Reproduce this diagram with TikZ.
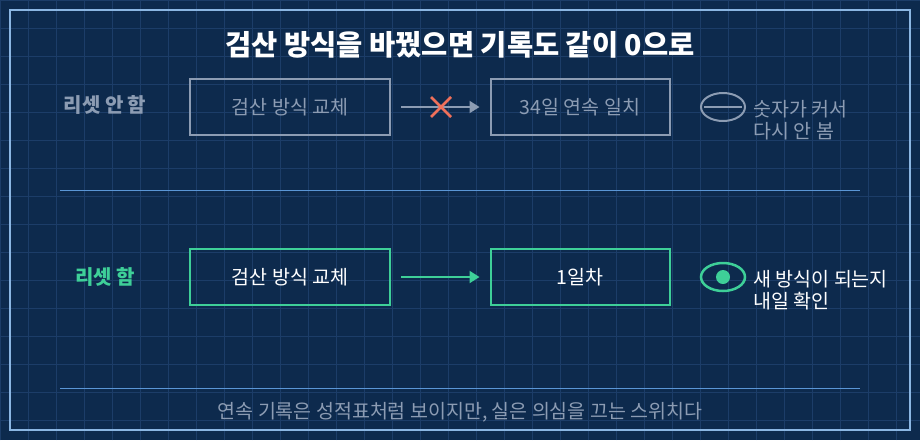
\documentclass[tikz,border=0pt]{standalone}
\usepackage{fontspec}
\setmainfont{Noto Sans CJK KR}
\usetikzlibrary{arrows.meta, positioning, calc, shapes.geometric}
\definecolor{bgblue}{HTML}{0D2A4D}
\definecolor{gridblue}{HTML}{1C3D68}
\definecolor{lineblue}{HTML}{5A96D6}
\definecolor{dimgray}{HTML}{8C9CB3}
\definecolor{okgreen}{HTML}{3ECF98}
\definecolor{crossred}{HTML}{F0705A}
\tikzset{
  stage/.style = {rectangle, minimum width=200pt, minimum height=56pt, line width=2pt, font={\fontsize{19.5pt}{23pt}\selectfont}},
  rowlabel/.style = {font={\fontsize{20pt}{24pt}\selectfont\bfseries}},
  note/.style = {anchor=west, align=left, font={\fontsize{19.5pt}{22pt}\selectfont}},
  arrow/.style = {line width=2pt, -{Triangle[length=10pt, width=12pt]}}
}
\begin{document}
\begin{tikzpicture}[x=1pt, y=-1pt]
    \fill[bgblue] (0,0) rectangle (920,440);
    \useasboundingbox (0,0) rectangle (920,440);
    \draw[gridblue, line width=0.8pt] (0,0) grid[step=28pt] (920,440);
    \draw[lineblue!70, line width=1.2pt] (10,10) rectangle (910,430);

    \node (title) [text=white, font={\fontsize{28.5pt}{32pt}\selectfont\bfseries}] at (460,45) {검산 방식을 바꿨으면 기록도 같이 0으로};

    % no reset
    \node (noreset) [rowlabel, text=dimgray] at (105,105) {리셋 안 함};
    \node (oldswap) [stage, draw=dimgray, text=dimgray, minimum width=200pt] at (290,107) {검산 방식 교체};
    \node (streak) [stage, draw=dimgray, text=dimgray, minimum width=179pt] at (580,107) {34일 연속 일치};
    \draw [arrow, dimgray] ($(oldswap.east)+(10,0)$) -- ($(streak.west)+(-10,0)$);
    \draw [crossred, line width=2.5pt] (431,97) -- (451,117) (451,97) -- (431,117);
    \node (closed) [ellipse, draw=dimgray, line width=2pt, minimum width=44pt, minimum height=28pt, inner sep=0pt] at (723,107) {};
    \draw [dimgray, line width=2.5pt] ($(closed.west)+(4,0)$) -- ($(closed.east)+(-4,0)$);
    \node (oldnote) [note, text=dimgray] at (750,120) {숫자가 커서\\다시 안 봄};

    \draw [lineblue, line width=1pt] (60,190) -- (860,190);

    % reset
    \node (reset) [rowlabel, text=okgreen] at (105,277) {리셋 함};
    \node (newswap) [stage, draw=okgreen, text=white, minimum width=200pt] at (290,277) {검산 방식 교체};
    \node (dayone) [stage, draw=okgreen, text=white, minimum width=179pt] at (580,277) {1일차};
    \draw [arrow, okgreen] ($(newswap.east)+(10,0)$) -- ($(dayone.west)+(-10,0)$);
    \node (open) [ellipse, draw=okgreen, line width=2.5pt, minimum width=44pt, minimum height=28pt, inner sep=0pt] at (723,277) {};
    \fill [okgreen] (open.center) circle (7pt);
    \node (newnote) [note, text=white] at (750,290) {새 방식이 되는지\\내일 확인};

    \draw [lineblue, line width=1pt] (60,388) -- (860,388);
    \node (footer) [text=dimgray, font={\fontsize{19.5pt}{23pt}\selectfont}] at (460,412) {연속 기록은 성적표처럼 보이지만, 실은 의심을 끄는 스위치다};
\end{tikzpicture}
\end{document}
